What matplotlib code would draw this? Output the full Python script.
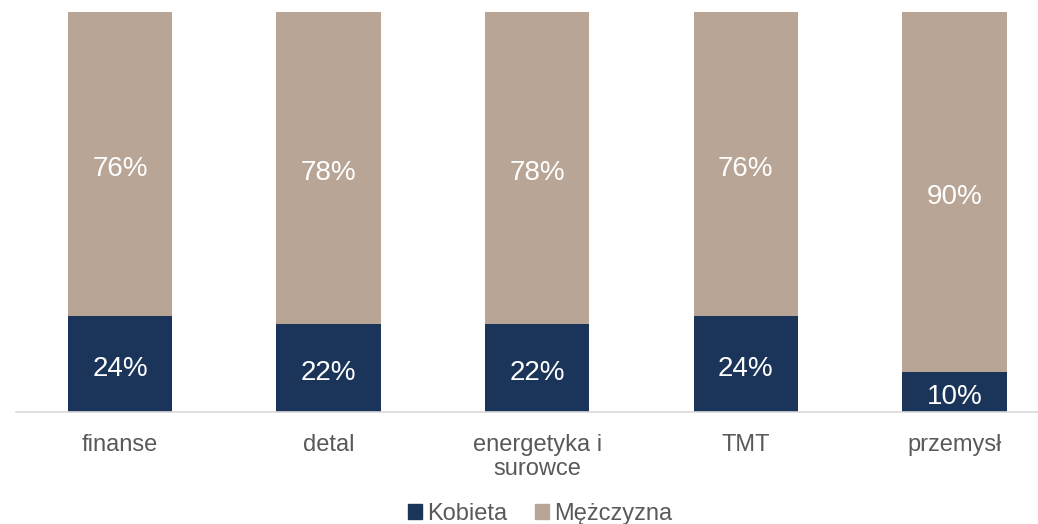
import matplotlib
matplotlib.use("Agg")
from matplotlib import pyplot as plt
from matplotlib.patches import Patch

plt.rcParams['font.family'] = ['Liberation Sans', 'DejaVu Sans']

categories = ["finanse", "detal", "energetyka i\nsurowce", "TMT", "przemysł"]
kobieta = [24, 22, 22, 24, 10]
mezczyzna = [76, 78, 78, 76, 90]
series_names = ["Kobieta", "Mężczyzna"]

navy = "#1A3559"
beige = "#B9A595"

W, H = 1038, 524
fig = plt.figure(figsize=(W / 100, H / 100), dpi=100)
# axes in pixels: 0 at y=412, 100 at y=12; first bar centre x=120, step ~208.6
ax = fig.add_axes([15.7 / W, (H - 412) / H, (W - 15.7) / W, 400 / H])

x = list(range(len(categories)))
b1 = ax.bar(x, kobieta, width=0.5, color=navy)
b2 = ax.bar(x, mezczyzna, width=0.5, bottom=kobieta, color=beige)

for i in x:
    ax.annotate(f"{kobieta[i]}%", (i, kobieta[i] / 2), xytext=(0, -5),
                textcoords="offset pixels", ha="center", va="center",
                color="white", fontsize=20)
    ax.annotate(f"{mezczyzna[i]}%", (i, kobieta[i] + mezczyzna[i] / 2),
                xytext=(0, -5), textcoords="offset pixels", ha="center",
                va="center", color="white", fontsize=20)

ax.set_xlim(-0.5, (W - 120) / 208.6)
ax.set_ylim(0, 100)
ax.set_yticks([])
ax.set_xticks(x)
ax.set_xticklabels(categories, fontsize=17, color="#595959", linespacing=1.12)
ax.tick_params(axis="x", length=0, pad=16)
for s in ["top", "right", "left"]:
    ax.spines[s].set_visible(False)
ax.spines["bottom"].set_color("#D9D9D9")
ax.spines["bottom"].set_linewidth(1.2)

handles = [Patch(color=navy), Patch(color=beige)]
fig.legend(handles, series_names, loc="center", bbox_to_anchor=(540 / W, (H - 514) / H),
           ncol=2, frameon=False, fontsize=17, handlelength=0.6, handleheight=0.6,
           handletextpad=0.2, columnspacing=1.2, labelcolor="#595959")

fig.savefig("out.png", dpi=100)
